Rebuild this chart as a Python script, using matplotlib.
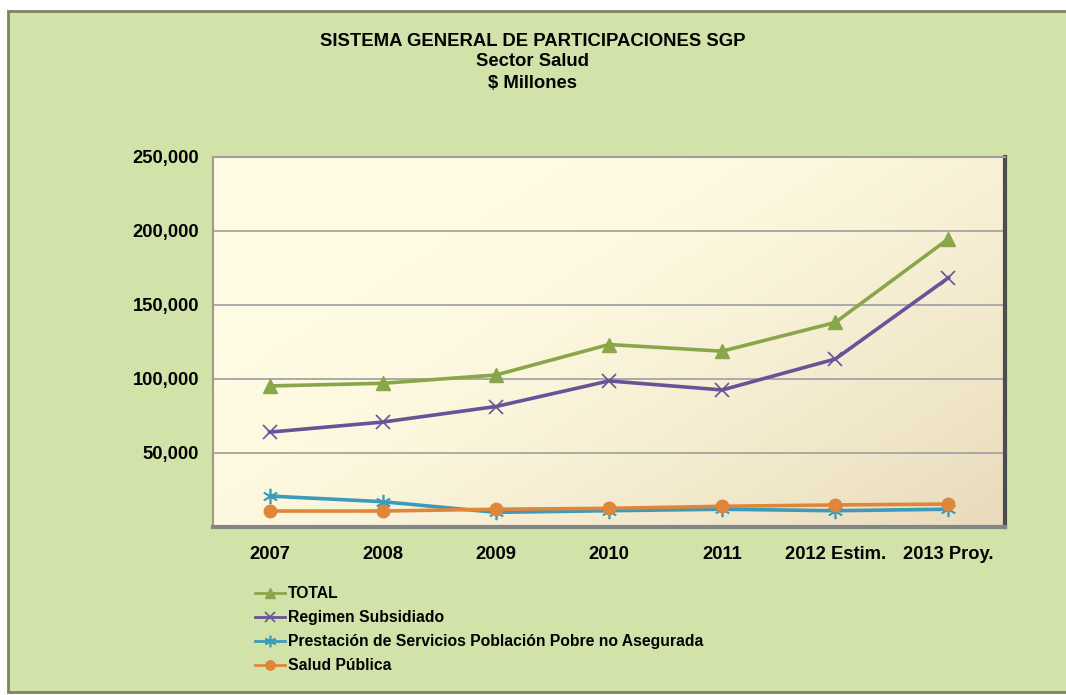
import matplotlib
matplotlib.use("Agg")
import matplotlib.pyplot as plt
import numpy as np
from matplotlib.patches import Rectangle
from matplotlib.ticker import FuncFormatter

plt.rcParams['font.family'] = ['Liberation Sans', 'DejaVu Sans']
plt.rcParams['font.weight'] = 'bold'

anios = ['2007', '2008', '2009', '2010', '2011', '2012 Estim.', '2013 Proy.']
total = [95300, 97100, 102700, 123300, 118800, 138200, 194700]
regimen = [64100, 70900, 81400, 98700, 92600, 113500, 168400]
prestacion = [20900, 17100, 9900, 11000, 12000, 11000, 12000]
salud_publica = [10800, 10800, 12000, 12600, 14000, 14900, 15500]

W, H = 1066, 695
fig = plt.figure(figsize=(W / 100, H / 100), dpi=100)
fig.patch.set_facecolor('white')

# marco exterior verde
fig.patches.append(Rectangle((8 / W, 3 / H), 1.0, 1 - 14 / H, transform=fig.transFigure,
                             facecolor='#d1e3a8', edgecolor='#7f8560', linewidth=2.0, zorder=-10))

ax = fig.add_axes([213 / W, 1 - 527 / H, (1005 - 213) / W, (527 - 157) / H])

# fondo degradado del area de trazado
gx, gy = np.meshgrid(np.linspace(0, 1, 200), np.linspace(0, 1, 200))
g = np.clip((gx * 0.75 + gy * 0.55) - 0.35, 0, 1) ** 1.4
c1 = np.array([255, 251, 227]) / 255
c2 = np.array([230, 216, 183]) / 255
img = c1[None, None, :] * (1 - g[..., None]) + c2[None, None, :] * g[..., None]
ax.imshow(img, extent=[0, 1, 0, 1], transform=ax.transAxes, aspect='auto', zorder=0, origin='upper')

x = np.arange(len(anios))
ax.plot(x, total, color='#8aa64a', lw=2.6, marker='^', ms=10, zorder=5, label='TOTAL')
ax.plot(x, regimen, color='#6a5299', lw=2.6, marker='x', ms=10, mew=1.2, zorder=5,
        label='Regimen Subsidiado')
ax.plot(x, prestacion, color='#3c9aba', lw=2.6, marker=(6, 2, 0), ms=11, mew=1.2, zorder=4,
        label='Prestación de Servicios Población Pobre no Asegurada')
ax.plot(x, salud_publica, color='#e0863a', lw=2.6, marker='o', ms=9, zorder=6, label='Salud Pública')

ax.set_xlim(-0.5, len(anios) - 0.5)
ax.set_ylim(0, 250000)
ax.set_yticks([50000, 100000, 150000, 200000, 250000])
ax.yaxis.set_major_formatter(FuncFormatter(lambda v, p: f'{int(v):,}'))
ax.set_xticks(x)
ax.set_xticklabels(anios)
ax.tick_params(length=0, labelsize=13.2, pad=10)
ax.tick_params(axis='x', pad=14)
for lbl in ax.get_xticklabels() + ax.get_yticklabels():
    lbl.set_fontweight('bold')

for v in [50000, 100000, 150000, 200000]:
    ax.axhline(v, color='#a4a4a4', lw=1.3, zorder=2)

ax.spines['left'].set_color('#a09c8c')
ax.spines['left'].set_linewidth(1.5)
ax.spines['top'].set_color('#9e9e9e')
ax.spines['top'].set_linewidth(1.5)
ax.spines['right'].set_color('#4d4d4d')
ax.spines['right'].set_linewidth(3)
ax.spines['bottom'].set_color('#858585')
ax.spines['bottom'].set_linewidth(3)

fig.text(0.5, 1 - 42 / H, 'SISTEMA GENERAL DE PARTICIPACIONES SGP', ha='center', va='center',
         fontsize=13.3, fontweight='bold')
fig.text(0.5, 1 - 62 / H, 'Sector Salud', ha='center', va='center', fontsize=13.3, fontweight='bold')
fig.text(0.5, 1 - 83 / H, '$ Millones', ha='center', va='center', fontsize=13.3, fontweight='bold')

leg = fig.legend(loc='upper left', bbox_to_anchor=(255 / W, 1 - 586 / H), frameon=False,
                 fontsize=11.3, handlelength=1.9, handletextpad=0.2, labelspacing=0.58,
                 borderpad=0, borderaxespad=0, markerscale=0.75)
for t in leg.get_texts():
    t.set_fontweight('bold')
for h in leg.get_lines():
    h.set_linewidth(2.0)

fig.savefig('out.png', dpi=100)
